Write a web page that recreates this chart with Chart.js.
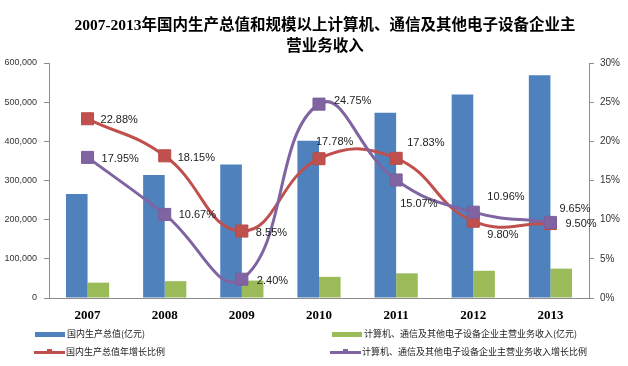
<!DOCTYPE html>
<html>
<head>
<meta charset="utf-8">
<script src="https://cdn.jsdelivr.net/npm/chart.js@4/dist/chart.umd.min.js"></script>
<style>
    html, body { margin: 0; padding: 0; background: #fff; }
    #wrap { position: relative; width: 628px; height: 366px; }
    #titulo { position: absolute; left: 0; top: 14px; width: 650px; text-align: center;
              font: bold 15.5px/21px "Liberation Serif", "Noto Sans CJK SC", serif; color: #000; }
    .leyenda { position: absolute; font: 9px "Noto Sans CJK SC", sans-serif; color: #222; white-space: nowrap; line-height: 12px; }
    .muestra { position: absolute; }
</style>
</head>
<body>
<div id="wrap">
    <canvas id="grafico" width="628" height="366"></canvas>
    <div id="titulo"></div>
    <div id="leyendas"></div>
</div>
<script>
const anios = ["2007", "2008", "2009", "2010", "2011", "2012", "2013"];
const pib = [265810, 314045, 340903, 401513, 473104, 519470, 568845];
const ingresoElectronica = [39200, 43000, 44500, 54000, 63000, 69500, 75000];
const crecimientoPib = [22.88, 18.15, 8.55, 17.78, 17.83, 9.80, 9.50];
const crecimientoElectronica = [17.95, 10.67, 2.40, 24.75, 15.07, 10.96, 9.65];
const ticksIzq = [0, 100000, 200000, 300000, 400000, 500000, 600000];
const ticksDer = [0, 5, 10, 15, 20, 25, 30];

const titulo = ["2007-2013年国内生产总值和规模以上计算机、通信及其他电子设备企业主", "营业务收入"];
const nombres = [
    "国内生产总值(亿元)",
    "计算机、通信及其他电子设备企业主营业务收入(亿元)",
    "国内生产总值年增长比例",
    "计算机、通信及其他电子设备企业主营业务收入增长比例"
];

const AZUL = "#4F81BD", VERDE = "#9BBB59", ROJO = "#C0504D", MORADO = "#8064A2";

// desplazamiento de cada etiqueta respecto al punto [dx borde izq, dy centro]
const offsetsRojo = [[13, 1], [13, 2], [14, 2], [-3, -17], [11, -15], [14, 14], [15, 0]];
const offsetsMorado = [[14, 2], [14, 1], [15, 2], [15, -3], [4, 24], [14, -15], [9, -13]];

document.getElementById("titulo").innerHTML = titulo.join("<br>");

const etiquetasPlugin = {
    id: "etiquetas",
    afterDatasetsDraw(chart) {
        const ctx = chart.ctx;
        ctx.save();
        ctx.font = "11px 'Liberation Sans', Arial, sans-serif";
        ctx.fillStyle = "#222";
        ctx.textAlign = "left";
        ctx.textBaseline = "middle";
        [[2, offsetsRojo], [3, offsetsMorado]].forEach(([idx, offs]) => {
            const meta = chart.getDatasetMeta(idx);
            const datos = chart.data.datasets[idx].data;
            meta.data.forEach((p, i) => {
                ctx.fillText(datos[i].toFixed(2) + "%", p.x + offs[i][0], p.y + offs[i][1]);
            });
        });
        ctx.restore();
    }
};

const ctx = document.getElementById("grafico");

new Chart(ctx, {
    type: "bar",
    data: {
        labels: anios,
        datasets: [
            { label: nombres[0], data: pib, backgroundColor: AZUL, yAxisID: "y", order: 2 },
            { label: nombres[1], data: ingresoElectronica, backgroundColor: VERDE, yAxisID: "y", order: 3 },
            {
                type: "line", label: nombres[2], data: crecimientoPib, yAxisID: "y1", order: 1,
                borderColor: ROJO, backgroundColor: ROJO, borderWidth: 3, tension: 0.45,
                pointStyle: "rect", pointRadius: 8.5, pointBorderWidth: 1, pointBorderColor: "#B84A47"
            },
            {
                type: "line", label: nombres[3], data: crecimientoElectronica, yAxisID: "y1", order: 0,
                borderColor: MORADO, backgroundColor: MORADO, borderWidth: 3, tension: 0.45,
                pointStyle: "rect", pointRadius: 8.5, pointBorderWidth: 1, pointBorderColor: "#7A5E9C"
            }
        ]
    },
    options: {
        responsive: false,
        animation: false,
        categoryPercentage: 0.56,
        barPercentage: 1,
        layout: { padding: { top: 63, bottom: 44, left: 0, right: 0 } },
        plugins: {
            legend: { display: false },
            tooltip: { enabled: false },
            title: { display: false }
        },
        scales: {
            x: {
                grid: { display: false, drawTicks: false },
                border: { display: true, color: "#8C8C8C" },
                ticks: {
                    color: "#000", padding: 10,
                    font: { family: "'Liberation Serif', serif", size: 13, weight: "bold" }
                },
                afterFit: s => { s.height = 24; }
            },
            y: {
                position: "left",
                min: 0, max: 600000,
                afterBuildTicks: s => { s.ticks = ticksIzq.map(v => ({ value: v })); },
                grid: { drawOnChartArea: false, drawTicks: true, tickLength: 5, color: "#8C8C8C" },
                border: { display: true, color: "#8C8C8C" },
                ticks: {
                    color: "#333", padding: 7,
                    font: { family: "'Liberation Sans', Arial, sans-serif", size: 9 }
                },
                afterFit: s => { s.width = 49; }
            },
            y1: {
                position: "right",
                min: 0, max: 30,
                afterBuildTicks: s => { s.ticks = ticksDer.map(v => ({ value: v })); },
                grid: { drawOnChartArea: false, drawTicks: true, tickLength: 5, color: "#8C8C8C" },
                border: { display: true, color: "#8C8C8C" },
                ticks: {
                    color: "#333", padding: 6,
                    font: { family: "'Liberation Sans', Arial, sans-serif", size: 10 },
                    callback: v => v + "%"
                },
                afterFit: s => { s.width = 39; }
            }
        }
    },
    plugins: [etiquetasPlugin]
});

// leyenda en HTML, dos filas por dos columnas
const leyendas = document.getElementById("leyendas");
const items = [
    { x: 35, y: 334, color: AZUL, tipo: "barra", texto: nombres[0] },
    { x: 332, y: 334, color: VERDE, tipo: "barra", texto: nombres[1] },
    { x: 34, y: 352, color: ROJO, tipo: "linea", texto: nombres[2] },
    { x: 330, y: 352, color: MORADO, tipo: "linea", texto: nombres[3] }
];
items.forEach(it => {
    let html = "";
    if (it.tipo === "barra") {
        html += `<div class="muestra" style="left:${it.x}px;top:${it.y - 2}px;width:30px;height:5px;background:${it.color}"></div>`;
    } else {
        html += `<div class="muestra" style="left:${it.x}px;top:${it.y - 1}px;width:31px;height:3px;background:${it.color}"></div>`;
        html += `<div class="muestra" style="left:${it.x + 13}px;top:${it.y - 3}px;width:5px;height:5px;background:${it.color}"></div>`;
    }
    html += `<div class="leyenda" style="left:${it.x + 32}px;top:${it.y - 6}px">${it.texto}</div>`;
    leyendas.innerHTML += html;
});
</script>
</body>
</html>
